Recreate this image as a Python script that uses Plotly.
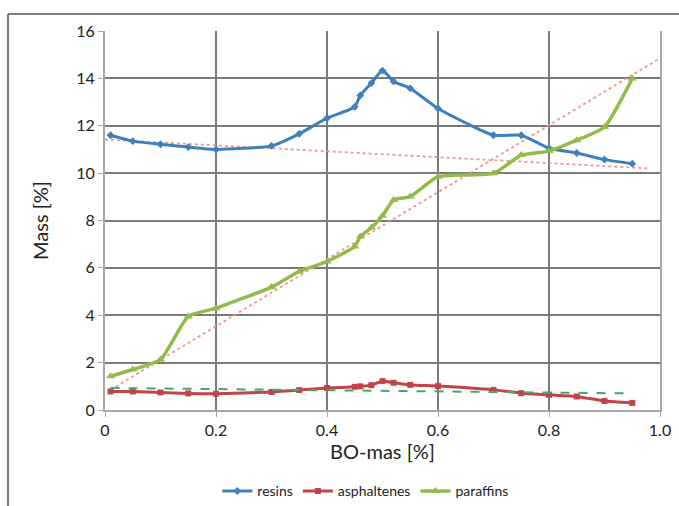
import plotly.graph_objects as go

x_vals = [0.01, 0.05, 0.10, 0.15, 0.20, 0.30, 0.35, 0.40, 0.45, 0.46, 0.48, 0.50,
          0.52, 0.55, 0.60, 0.70, 0.75, 0.80, 0.85, 0.90, 0.95]
resins = [11.6, 11.35, 11.22, 11.1, 11.0, 11.15, 11.66, 12.32, 12.8, 13.28, 13.8, 14.33,
          13.87, 13.58, 12.73, 11.6, 11.6, 11.05, 10.85, 10.57, 10.4]
asphaltenes = [0.78, 0.78, 0.74, 0.70, 0.69, 0.76, 0.84, 0.93, 0.98, 1.0, 1.05, 1.22,
               1.15, 1.06, 1.01, 0.85, 0.71, 0.64, 0.57, 0.38, 0.30]
paraffins = [1.42, 1.71, 2.13, 3.95, 4.30, 5.19, 5.85, 6.27, 6.90, 7.32, 7.7, 8.2,
             8.87, 9.01, 9.85, 9.99, 10.76, 10.93, 11.39, 11.95, 13.99]

trend_resins_x = [0.0, 0.98]
trend_resins_y = [11.42, 10.2]
trend_paraffins_x = [0.01, 1.0]
trend_paraffins_y = [0.85, 14.85]
trend_asph_x = [0.01, 0.95]
trend_asph_y = [0.93, 0.70]

x_ticks = [0, 0.2, 0.4, 0.6, 0.8, 1.0]
x_ticktext = ["0", "0.2", "0.4", "0.6", "0.8", "1.0"]
y_ticks = [0, 2, 4, 6, 8, 10, 12, 14, 16]

BLUE = "#3f7fc0"
RED = "#c0444a"
GREEN = "#93bb4a"
TREND_RED = "#f09492"
TREND_GREEN = "#45a868"

fig = go.Figure()

# trend lines
fig.add_trace(go.Scatter(x=trend_resins_x, y=trend_resins_y, mode="lines",
                         line=dict(color=TREND_RED, width=1.8, dash="dot"),
                         showlegend=False, hoverinfo="skip"))
fig.add_trace(go.Scatter(x=trend_paraffins_x, y=trend_paraffins_y, mode="lines",
                         line=dict(color=TREND_RED, width=1.8, dash="dot"),
                         showlegend=False, hoverinfo="skip"))

fig.add_trace(go.Scatter(x=x_vals, y=resins, name="resins", mode="lines+markers",
                         line=dict(color=BLUE, width=3, shape="spline", smoothing=0.5),
                         marker=dict(symbol="diamond", size=6, color=BLUE)))
fig.add_trace(go.Scatter(x=x_vals, y=asphaltenes, name="asphaltenes", mode="lines+markers",
                         line=dict(color=RED, width=3, shape="spline", smoothing=0.5),
                         marker=dict(symbol="square", size=6, color=RED)))
fig.add_trace(go.Scatter(x=x_vals, y=paraffins, name="paraffins", mode="lines+markers",
                         line=dict(color=GREEN, width=3.5, shape="spline", smoothing=0.5),
                         marker=dict(symbol="triangle-up", size=8, color=GREEN)))

fig.add_trace(go.Scatter(x=trend_asph_x, y=trend_asph_y, mode="lines",
                         line=dict(color=TREND_GREEN, width=2, dash="dash"),
                         showlegend=False, hoverinfo="skip"))

L, R, T, B = 105, 19, 31, 95.5
W, H = 679, 506
pw = W - L - R
ph = H - T - B

def px_x(p):
    return (p - L) / pw

def px_y(p):
    return (H - B - p) / ph

fig.update_layout(
    width=W, height=H,
    margin=dict(l=L, r=R, t=T, b=B, autoexpand=False),
    paper_bgcolor="white", plot_bgcolor="white",
    font=dict(family="Lato, Open Sans, sans-serif", color="#222"),
    xaxis=dict(range=[0, 1.0], tickvals=x_ticks, ticktext=x_ticktext,
               showgrid=True, gridcolor="#7a7a7a", gridwidth=1.5,
               showline=True, linecolor="#a8a8a8", linewidth=2,
               ticks="outside", ticklen=5, tickcolor="#a8a8a8",
               tickfont=dict(size=16, color="#222"), zeroline=False, automargin=False,
               title=dict(text="BO-mas [%]", font=dict(size=20, color="#222"), standoff=6)),
    yaxis=dict(range=[0, 16], tickvals=y_ticks,
               showgrid=True, gridcolor="#7a7a7a", gridwidth=1.5,
               showline=True, linecolor="#a8a8a8", linewidth=2, mirror=True,
               ticks="outside", ticklen=5, tickcolor="#a8a8a8",
               tickfont=dict(size=16, color="#222"), zeroline=False, automargin=False,
               title=dict(text="Mass [%]", font=dict(size=20, color="#222"), standoff=22)),
    legend=dict(orientation="h", x=0.47, xanchor="center", y=px_y(492), yanchor="middle",
                font=dict(size=14, color="#222"), bgcolor="rgba(0,0,0,0)",
                itemwidth=30, tracegroupgap=0),
    shapes=[
        dict(type="line", xref="paper", yref="paper",
             x0=px_x(8), x1=px_x(8), y0=px_y(14), y1=px_y(510),
             line=dict(color="#555", width=1.5)),
        dict(type="line", xref="paper", yref="paper",
             x0=px_x(8), x1=px_x(690), y0=px_y(14), y1=px_y(14),
             line=dict(color="#555", width=1.5)),
    ],
)

fig.write_html("out.html")
